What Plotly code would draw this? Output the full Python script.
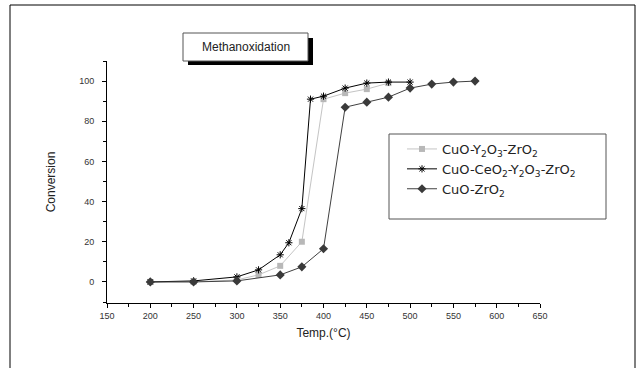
import plotly.graph_objects as go

# ---- data ----
temp_y = [200, 250, 300, 325, 350, 375, 400, 425, 450, 475]
conv_y = [0, 0, 1, 3.5, 8, 20, 91, 94, 96, 99]

temp_ce = [200, 250, 300, 325, 350, 360, 375, 385, 400, 425, 450, 475, 500]
conv_ce = [0, 0.5, 2.5, 6, 13.5, 19.5, 36.5, 91, 92.5, 96.5, 99, 99.5, 99.5]

temp_zr = [200, 250, 300, 350, 375, 400, 425, 450, 475, 500, 525, 550, 575]
conv_zr = [0, 0, 0.5, 3.5, 7.5, 16.5, 87, 89.5, 92, 96.5, 98.5, 99.5, 100]

names = ["CuO-Y<sub>2</sub>O<sub>3</sub>-ZrO<sub>2</sub>",
         "CuO-CeO<sub>2</sub>-Y<sub>2</sub>O<sub>3</sub>-ZrO<sub>2</sub>",
         "CuO-ZrO<sub>2</sub>"]

W, H = 638, 368
L, R, T, B = 107, 540, 61, 303  # plot area in pixels
FONT = "Arial, Liberation Sans, sans-serif"

def px(x):
    return (x - L) / (R - L)

def py(y):
    return (B - y) / (B - T)

fig = go.Figure()
fig.add_trace(go.Scatter(x=temp_y, y=conv_y, name=names[0], mode="lines+markers",
                         line=dict(color="#c4c4c4", width=1),
                         marker=dict(symbol="square", size=6, color="#b8b8b8")))
fig.add_trace(go.Scatter(x=temp_ce, y=conv_ce, name=names[1], mode="lines+markers",
                         line=dict(color="#000000", width=1),
                         marker=dict(symbol="asterisk-open", size=6,
                                     line=dict(color="#000000", width=1))))
fig.add_trace(go.Scatter(x=temp_zr, y=conv_zr, name=names[2], mode="lines+markers",
                         line=dict(color="#404040", width=1),
                         marker=dict(symbol="diamond", size=7, color="#3a3a3a")))

shapes = [
    # outer frame
    dict(type="rect", xref="paper", yref="paper", x0=px(10), x1=px(635), y0=py(372), y1=py(5),
         line=dict(color="black", width=1), fillcolor="rgba(0,0,0,0)", layer="below"),
    # title box shadow
    dict(type="rect", xref="paper", yref="paper", x0=px(188), x1=px(313), y0=py(65), y1=py(38),
         line=dict(width=0), fillcolor="black"),
    # title box
    dict(type="rect", xref="paper", yref="paper", x0=px(183), x1=px(308), y0=py(61), y1=py(33),
         line=dict(color="#555555", width=1), fillcolor="white"),
    # legend box
    dict(type="rect", xref="paper", yref="paper", x0=px(389), x1=px(606), y0=py(219), y1=py(134),
         line=dict(color="#555555", width=1), fillcolor="rgba(0,0,0,0)"),
]

fig.update_layout(
    width=W, height=H,
    margin=dict(l=L, r=W - R, t=T, b=H - B, pad=0),
    paper_bgcolor="white", plot_bgcolor="white",
    font=dict(family=FONT, color="#222222"),
    shapes=shapes,
    annotations=[dict(text="Methanoxidation", xref="paper", yref="paper",
                      x=px(245.5), y=py(47), xanchor="center", yanchor="middle",
                      showarrow=False,
                      font=dict(size=12, family=FONT, color="#222222"))],
    legend=dict(x=px(402), y=py(134), xanchor="left", yanchor="top",
                bgcolor="rgba(0,0,0,0)", borderwidth=0,
                font=dict(size=13, family="DejaVu Sans, sans-serif", color="#222222"),
                tracegroupgap=0, itemwidth=30),
    showlegend=True,
    xaxis=dict(range=[150, 650], dtick=50, tick0=150, showline=True, linecolor="black", linewidth=1,
               ticks="outside", ticklen=4, tickcolor="black", showgrid=False, zeroline=False,
               tickfont=dict(size=9, color="#333333"),
               minor=dict(dtick=25, ticks="outside", ticklen=3, tickcolor="black"),
               title=dict(text="Temp.(°C)", font=dict(size=12, color="#222222"), standoff=8)),
    yaxis=dict(range=[-10.5, 110], dtick=20, tick0=0, showline=True, linecolor="black", linewidth=1,
               ticks="outside", ticklen=4, tickcolor="black", showgrid=False, zeroline=False,
               tickfont=dict(size=9, color="#333333"), ticklabelstandoff=6,
               minor=dict(dtick=10, ticks="outside", ticklen=3, tickcolor="black"),
               title=dict(text="Conversion", font=dict(size=12, color="#222222"), standoff=20)),
)

fig.write_html("out.html", config={"displayModeBar": False},
               post_script="document.body.style.margin='0';document.body.style.overflow='hidden';")
